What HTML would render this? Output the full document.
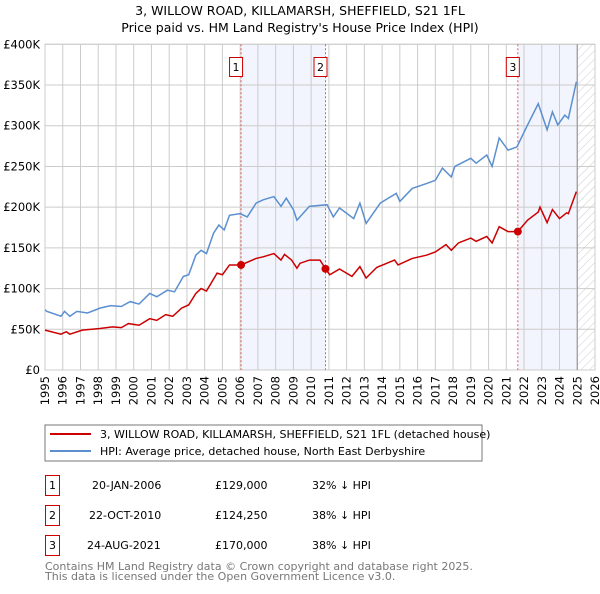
<!DOCTYPE html>
<html><head><meta charset="utf-8"><style>
body{margin:0;background:#fff;font-family:"DejaVu Sans","Liberation Sans",sans-serif;}
svg text{font-family:"DejaVu Sans","Liberation Sans",sans-serif;}
</style></head><body>
<svg id="c" width="600" height="590" xmlns="http://www.w3.org/2000/svg">
<defs><pattern id="hatch" width="6" height="6" patternUnits="userSpaceOnUse" patternTransform="rotate(45)"><line x1="0" y1="0" x2="0" y2="6" stroke="#ccc" stroke-width="1"/></pattern></defs>
<text x="300" y="15" text-anchor="middle" font-size="12.5">3, WILLOW ROAD, KILLAMARSH, SHEFFIELD, S21 1FL</text>
<text x="300" y="32" text-anchor="middle" font-size="12.5">Price paid vs. HM Land Registry's House Price Index (HPI)</text>
<g id="plot"></g>
<rect x="45" y="425" width="437" height="36" fill="#fff" stroke="#777"/>
<line x1="50" y1="434" x2="91" y2="434" stroke="#cc0000" stroke-width="2"/>
<text x="100" y="438" font-size="11">3, WILLOW ROAD, KILLAMARSH, SHEFFIELD, S21 1FL (detached house)</text>
<line x1="50" y1="451" x2="91" y2="451" stroke="#5b8fd0" stroke-width="2"/>
<text x="100" y="455" font-size="11">HPI: Average price, detached house, North East Derbyshire</text>
<g font-size="11">
<rect x="45.5" y="475.5" width="14" height="20" fill="#fff" stroke="#cc0000"/><text x="52.5" y="489" text-anchor="middle">1</text>
<text x="92" y="489">20-JAN-2006</text><text x="215" y="489">£129,000</text><text x="312" y="489">32% ↓ HPI</text>
<rect x="45.5" y="505.5" width="14" height="20" fill="#fff" stroke="#cc0000"/><text x="52.5" y="519" text-anchor="middle">2</text>
<text x="89" y="519">22-OCT-2010</text><text x="215" y="519">£124,250</text><text x="312" y="519">38% ↓ HPI</text>
<rect x="45.5" y="535.5" width="14" height="20" fill="#fff" stroke="#cc0000"/><text x="52.5" y="549" text-anchor="middle">3</text>
<text x="87" y="549">24-AUG-2021</text><text x="215" y="549">£170,000</text><text x="312" y="549">38% ↓ HPI</text>
</g>
<text x="45" y="570" font-size="11" fill="#777">Contains HM Land Registry data © Crown copyright and database right 2025.</text>
<text x="45" y="580" font-size="11" fill="#777">This data is licensed under the Open Government Licence v3.0.</text>
</svg>
<script>
const hpiYears=[1995,1995.1,1995.9,1996.1,1996.4,1996.8,1997.4,1998.1,1998.7,1999.3,1999.8,2000.3,2000.9,2001.3,2001.9,2002.3,2002.8,2003.1,2003.5,2003.8,2004.1,2004.5,2004.8,2005.1,2005.4,2006,2006.4,2006.9,2007.3,2007.9,2008.3,2008.6,2009,2009.2,2009.37,2009.9,2010.9,2011.25,2011.6,2012.4,2012.75,2013.1,2013.9,2014.8,2015,2015.7,2016.5,2017,2017.4,2017.9,2018.1,2019,2019.3,2019.9,2020.2,2020.6,2021.1,2021.6,2022.2,2022.8,2023.3,2023.6,2023.9,2024.3,2024.5,2024.95];
const hpiValues=[74,72,66,72,66,72,70,76,79,78,84,81,94,90,98,96,115,117,141,147,143,168,178,172,190,192,188,205,209,213,201,211,197,184,188,201,203,188,199,186,205,180,205,217,207,223,229,233,248,237,250,260,254,264,250,285,270,274,301,327,295,317,301,313,309,354];
const priceYears=[1995,1995.9,1996.2,1996.4,1997.1,1998.1,1998.8,1999.3,1999.7,2000.3,2000.9,2001.3,2001.8,2002.2,2002.7,2003.1,2003.5,2003.8,2004.1,2004.7,2005,2005.4,2006.05,2006.9,2007.3,2007.9,2008.3,2008.5,2008.9,2009.2,2009.37,2009.9,2010.5,2010.81,2011.05,2011.6,2012.3,2012.75,2013.1,2013.7,2014.7,2014.9,2015.7,2016.5,2017,2017.6,2017.9,2018.3,2019,2019.3,2019.9,2020.2,2020.6,2021.1,2021.65,2022.2,2022.8,2022.9,2023.3,2023.6,2024,2024.4,2024.5,2024.95];
const priceValues=[49,44,47,44,49,51,53,52,57,55,63,61,68,66,76,80,94,100,97,119,117,129,129,137,139,143,135,142,135,125,131,135,135,124.25,117,124,115,127,113,126,135,129,137,141,145,154,147,156,162,158,164,156,176,170,170,184,194,200,181,197,186,193,192,219];
const saleYears=[2006.05,2010.81,2021.65];
const saleValues=[129,124.25,170];
const saleLabels=["1","2","3"];
const yTicks=[0,50,100,150,200,250,300,350,400];
const yTickLabels=["£0","£50K","£100K","£150K","£200K","£250K","£300K","£350K","£400K"];
const xTicks=[1995,1996,1997,1998,1999,2000,2001,2002,2003,2004,2005,2006,2007,2008,2009,2010,2011,2012,2013,2014,2015,2016,2017,2018,2019,2020,2021,2022,2023,2024,2025,2026];
const X0=45,X1=595,Y0=370,Y1=44.3;
const sx=y=>X0+(y-1995)/(2026-1995)*(X1-X0);
const sy=v=>Y0-(v/400)*(Y0-Y1);
const g=document.getElementById('plot');
const NS='http://www.w3.org/2000/svg';
function mk(t,a){const e=document.createElementNS(NS,t);for(const k in a)e.setAttribute(k,a[k]);g.appendChild(e);return e;}
for(let i=0;i<saleYears.length;i++){
  const a=saleYears[i],b=i===0?saleYears[1]:(i===2?2025:null);
  if(b!==null){const r=mk('rect',{x:sx(a),y:Y1,width:sx(b)-sx(a),height:Y0-Y1,fill:'#f2f5fd'});
  
  }
}
const h=mk('rect',{x:sx(2025),y:Y1,width:X1-sx(2025),height:Y0-Y1,fill:'url(#hatch)'});


yTicks.forEach((v,i)=>{
  const l=mk('line',{x1:X0,x2:X1,y1:sy(v),y2:sy(v),stroke:'#ccc'});
  
  
  const t=mk('text',{x:40,y:sy(v)+4,'text-anchor':'end','font-size':'11.5'});
  
  
  t.textContent=yTickLabels[i];
});
xTicks.forEach(y=>{
  const l=mk('line',{x1:sx(y),x2:sx(y),y1:Y1,y2:Y0,stroke:'#ccc'});
  
  
  const t=mk('text',{x:0,y:0,'text-anchor':'end','font-size':'11.5',transform:`translate(${sx(y)+4},${Y0+6}) rotate(-90)`});
  
  
  t.textContent=y;
});
const fr=mk('rect',{x:X0,y:Y1,width:X1-X0,height:Y0-Y1,fill:'none',stroke:'#ccc'});


const ed=mk('line',{x1:sx(2025),x2:sx(2025),y1:Y1,y2:Y0,stroke:'#999','stroke-width':1.2});


saleYears.forEach((y,i)=>{
  const l=mk('line',{x1:sx(y),x2:sx(y),y1:Y1,y2:Y0,stroke:'#ee5555','stroke-dasharray':'2,2'});
  
  
  const r=mk('rect',{x:sx(y)-11.5,y:57.5,width:13,height:19,fill:'#fff',stroke:'#cc0000'});
  
  
  const t=mk('text',{x:sx(y)-5,y:71,'text-anchor':'middle','font-size':'11'});
  
  
  t.textContent=saleLabels[i];
});
const hp=mk('polyline',{points:hpiYears.map((y,i)=>sx(y)+','+sy(hpiValues[i])).join(' '),fill:'none',stroke:'#5b8fd0','stroke-width':1.5});


const pp=mk('polyline',{points:priceYears.map((y,i)=>sx(y)+','+sy(priceValues[i])).join(' '),fill:'none',stroke:'#cc0000','stroke-width':1.5});


saleYears.forEach((y,i)=>{
  const c=mk('circle',{cx:sx(y),cy:sy(saleValues[i]),r:4,fill:'#cc0000'});
  
  
});
</script>
</body></html>
